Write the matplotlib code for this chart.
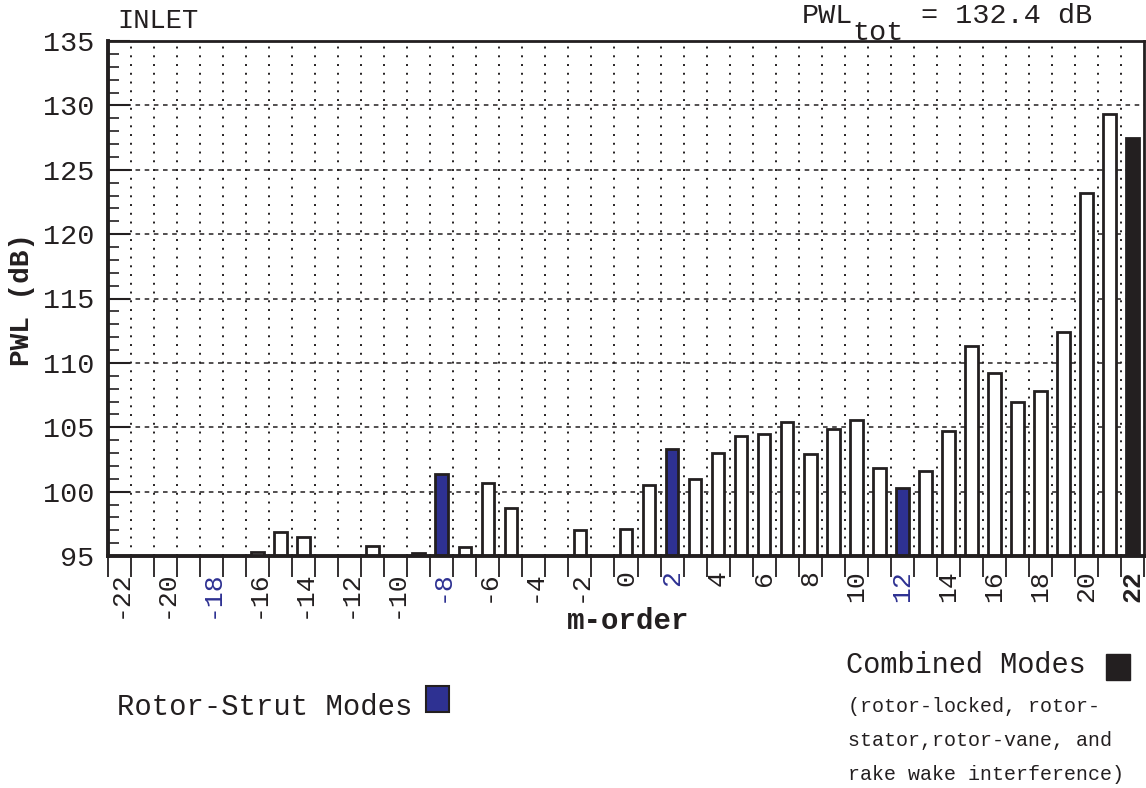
import numpy as np
import matplotlib
matplotlib.use("Agg")
import matplotlib.pyplot as plt

# m-order of each bar and its PWL level (dB)
m_order = [-16, -15, -14, -11, -9, -8, -7, -6, -5, -2, 0, 1, 2, 3, 4, 5, 6, 7,
           8, 9, 10, 11, 12, 13, 14, 15, 16, 17, 18, 19, 20, 21, 22]
pwl = [95.3, 96.9, 96.5, 95.8, 95.2, 101.4, 95.7, 100.7, 98.7, 97.0, 97.1, 100.5,
       103.3, 101.0, 103.0, 104.3, 104.5, 105.4, 102.9, 104.85, 105.6, 101.8, 100.3,
       101.6, 104.7, 111.3, 109.2, 107.0, 107.8, 112.4, 123.2, 129.3, 127.5]
strut_modes = [-8, 2, 12]      # rotor-strut modes (blue)
combined_modes = [22]          # combined modes (black)
blue_labels = [-18, -8, 2, 12]
x_labels = list(range(-22, 23, 2))
y_ticks = [95, 100, 105, 110, 115, 120, 125, 130, 135]

BLUE = "#2e3192"
BLACK = "#231f20"
FONT = ["Liberation Mono", "DejaVu Sans Mono"]
plt.rcParams["font.family"] = FONT

W, H = 1146, 788
fig = plt.figure(figsize=(W / 100, H / 100), dpi=100)
ax = fig.add_axes([108 / W, 1 - 556 / H, 1036 / W, (556 - 41) / H])


def fx(px):
    return px / W


def fy(py):
    return 1 - py / H


colors = []
for m in m_order:
    if m in strut_modes:
        colors.append(BLUE)
    elif m in combined_modes:
        colors.append(BLACK)
    else:
        colors.append("white")

base = 95
ax.bar(m_order, np.array(pwl) - base, bottom=base, width=0.55, color=colors,
       edgecolor=BLACK, linewidth=2, zorder=3)

ax.set_xlim(-22.5, 22.5)
ax.set_ylim(95, 135)

# grid: dashed horizontal at 5 dB, dotted vertical at bin edges
for v in y_ticks[1:-1]:
    ax.axhline(v, color=BLACK, lw=1.1, ls=(0, (3, 3)), zorder=1)
for e in np.arange(-21.5, 22.5, 1.0):
    ax.axvline(e, color=BLACK, lw=1.4, ls=(0, (1, 3.5)), zorder=1)

ax.set_yticks(y_ticks)
ax.set_yticks(np.arange(95, 136, 1), minor=True)
ax.tick_params(axis="y", which="major", direction="in", length=16, width=1.5,
               labelsize=20.5, pad=10, colors=BLACK)
ax.tick_params(axis="y", which="minor", direction="in", length=8, width=1.2,
               colors=BLACK)
ax.tick_params(axis="y", which="both", right=False)

ax.set_xticks(x_labels)
ax.set_xticks(np.arange(-22.5, 23, 1.0), minor=True)
ax.set_xticklabels([str(v) for v in x_labels], rotation=90, fontsize=19)
ax.tick_params(axis="x", which="major", length=0, pad=10)
ax.tick_params(axis="x", which="minor", direction="out", length=15, width=1.3,
               colors=BLACK)
for lab, v in zip(ax.get_xticklabels(), x_labels):
    if v in blue_labels:
        lab.set_color(BLUE)
    elif v == 22:
        lab.set_fontweight("bold")
        lab.set_color(BLACK)
    else:
        lab.set_color(BLACK)

for side in ["left", "bottom"]:
    ax.spines[side].set_linewidth(2.8)
for side in ["top", "right"]:
    ax.spines[side].set_linewidth(2.0)
for s in ax.spines.values():
    s.set_color(BLACK)
    s.set_zorder(4)

# axis titles
fig.text(fx(22), fy(300), "PWL (dB)", rotation=90, ha="center", va="center",
         fontsize=20, fontweight="bold", color=BLACK)
fig.text(fx(628), fy(621), "m-order", ha="center", va="center",
         fontsize=21, fontweight="bold", color=BLACK)

# header texts
fig.text(fx(117), fy(21), "INLET", ha="left", va="center", fontsize=19.5, color=BLACK)
fig.text(fx(802), fy(16), "PWL", ha="left", va="center", fontsize=20.5, color=BLACK)
fig.text(fx(852), fy(33), "tot", ha="left", va="center", fontsize=20.5, color=BLACK)
fig.text(fx(921), fy(16), "= 132.4 dB", ha="left", va="center", fontsize=20.5,
         color=BLACK)

# legend texts and swatches
fig.text(fx(117), fy(707), "Rotor-Strut Modes", ha="left", va="center",
         fontsize=20.8, color=BLACK)
fig.patches.append(plt.Rectangle((fx(426), fy(712)), 23 / W, 26 / H,
                                 transform=fig.transFigure, facecolor=BLUE,
                                 edgecolor=BLACK, lw=1.5))
fig.text(fx(846), fy(665), "Combined Modes", ha="left", va="center",
         fontsize=20.6, color=BLACK)
fig.patches.append(plt.Rectangle((fx(1106), fy(680)), 24 / W, 26 / H,
                                 transform=fig.transFigure, facecolor=BLACK,
                                 edgecolor=BLACK, lw=1.0))
fig.text(fx(848), fy(706), "(rotor-locked, rotor-", ha="left", va="center",
         fontsize=14.4, color=BLACK)
fig.text(fx(848), fy(740), "stator,rotor-vane, and", ha="left", va="center",
         fontsize=14.4, color=BLACK)
fig.text(fx(848), fy(775), "rake wake interference)", ha="left", va="center",
         fontsize=14.4, color=BLACK)

fig.savefig("out.png", dpi=100)
